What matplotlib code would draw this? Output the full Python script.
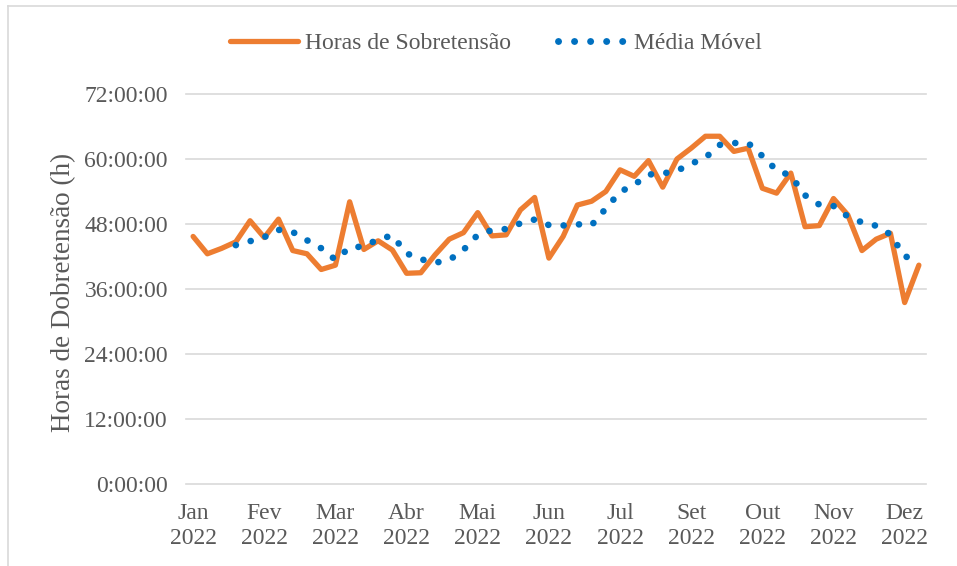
import numpy as np
import pandas as pd
import matplotlib
matplotlib.use('Agg')
import matplotlib.pyplot as plt
from matplotlib.ticker import FuncFormatter
from matplotlib.lines import Line2D

# weekly over-voltage hours in 2022 (in hours)
horas = [45.7, 42.5, 43.5, 44.7, 48.6, 45.5, 48.9, 43.1, 42.5, 39.6,
         40.4, 52.1, 43.3, 44.9, 43.2, 38.9, 39.0, 42.3, 45.2, 46.4,
         50.1, 45.8, 46.0, 50.6, 52.9, 41.7, 45.7, 51.5, 52.2, 54.0,
         58.0, 56.8, 59.7, 54.8, 60.0, 62.0, 64.2, 64.2, 61.4, 62.0,
         54.6, 53.7, 57.4, 47.5, 47.7, 52.7, 49.7, 43.1, 45.2, 46.3,
         33.5, 40.4]
tick_pos = [0, 5, 10, 15, 20, 25, 30, 35, 40, 45, 50]
tick_labels = ['Jan\n2022', 'Fev\n2022', 'Mar\n2022', 'Abr\n2022', 'Mai\n2022',
               'Jun\n2022', 'Jul\n2022', 'Set\n2022', 'Out\n2022', 'Nov\n2022',
               'Dez\n2022']
y_ticks = [0, 12, 24, 36, 48, 60, 72]

ORANGE = '#ED7D31'
BLUE = '#0070C0'
GRAY = '#595959'
GRID = '#D9D9D9'
DOTS = (0, (0.01, 2.3))

plt.rcParams['font.family'] = ['Liberation Serif', 'DejaVu Serif']
plt.rcParams['font.size'] = 17

serie = pd.Series(horas)
media = serie.rolling(4).mean()  # Excel moving-average trendline, period 4
x = np.arange(len(serie))

fig = plt.figure(figsize=(9.57, 5.66), dpi=100)
ax = fig.add_axes([186 / 957, 82 / 566, 740 / 957, 390 / 566])

ax.plot(x, serie, color=ORANGE, lw=3.8, solid_joinstyle='round',
        solid_capstyle='round', zorder=3)
ax.plot(x, media, color=BLUE, lw=4.8, linestyle=DOTS,
        dash_capstyle='round', zorder=4)

ax.set_xlim(-0.5, len(serie) - 0.5)
ax.set_ylim(0, 72)
ax.set_yticks(y_ticks)
ax.yaxis.set_major_formatter(FuncFormatter(lambda v, p: f'{int(v)}:00:00'))
ax.set_xticks(tick_pos)
ax.set_xticklabels(tick_labels, linespacing=1.25)
ax.tick_params(axis='both', length=0, colors=GRAY, labelsize=17)
ax.tick_params(axis='y', pad=13)
ax.tick_params(axis='x', pad=14)

for s in ax.spines.values():
    s.set_visible(False)
ax.set_axisbelow(True)
ax.yaxis.grid(True, color=GRID, lw=1.2)
for gl in ax.get_ygridlines():
    gl.set_clip_on(False)

ax.set_ylabel('Horas de Dobretensão (h)', color=GRAY, fontsize=19.5)
ax.yaxis.set_label_coords(-0.149, 0.49)

handles = [Line2D([], [], color=ORANGE, lw=3.8, solid_capstyle='round'),
           Line2D([], [], color=BLUE, lw=5.0, linestyle=DOTS,
                  dash_capstyle='round')]
fig.legend(handles, ['Horas de Sobretensão', 'Média Móvel'], loc='center',
           bbox_to_anchor=(0.518, 0.924), ncol=2, frameon=False,
           handlelength=2.9, handletextpad=0.3, columnspacing=2.0,
           labelcolor=GRAY, fontsize=17)

# chart-area border (only top and left visible in the crop)
fig.add_artist(Line2D([8 / 957, 8 / 957], [0, 1 - 6 / 566],
                      transform=fig.transFigure, color=GRID, lw=1.2))
fig.add_artist(Line2D([8 / 957, 1], [1 - 6 / 566, 1 - 6 / 566],
                      transform=fig.transFigure, color=GRID, lw=1.2))

fig.savefig('out.png', dpi=100)
